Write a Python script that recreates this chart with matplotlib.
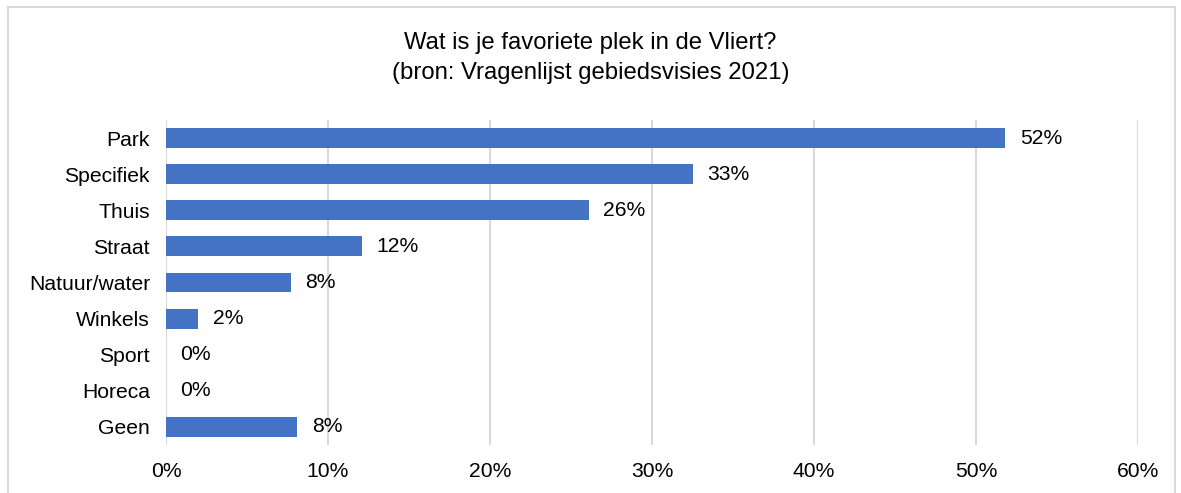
import matplotlib.pyplot as plt
import matplotlib.patches as patches
import numpy as np

plt.rcParams['font.family'] = ['Liberation Sans', 'DejaVu Sans']

categorieen = ['Park', 'Specifiek', 'Thuis', 'Straat', 'Natuur/water',
               'Winkels', 'Sport', 'Horeca', 'Geen']
percentages = [51.8, 32.5, 26.1, 12.1, 7.7, 2.0, 0.0, 0.0, 8.1]
labels = ['52%', '33%', '26%', '12%', '8%', '2%', '0%', '0%', '8%']
x_ticks = [0, 10, 20, 30, 40, 50, 60]

fig = plt.figure(figsize=(11.81, 4.93), dpi=100)
ax = fig.add_axes([166 / 1181, 1 - 445 / 493, (1138 - 166) / 1181, (445 - 120) / 493])

# rand om de grafiek
fig.patches.append(patches.Rectangle((8 / 1181, -0.05), (1175 - 8) / 1181, 1.05 - 7 / 493,
                                     transform=fig.transFigure, fill=False,
                                     edgecolor='#d9d9d9', linewidth=1.5))

y = np.arange(len(categorieen))
ax.barh(y, percentages, height=0.55, color='#4472c4', zorder=3)

for yi, waarde, tekst in zip(y, percentages, labels):
    ax.text(waarde + 0.9, yi, tekst, va='center', ha='left', fontsize=15.2, color='#000000')

ax.set_ylim(len(categorieen) - 0.5, -0.5)
ax.set_xlim(0, 60)
ax.set_yticks(y)
ax.set_yticklabels(categorieen, fontsize=15.2)
ax.set_xticks(x_ticks)
ax.set_xticklabels([f'{t}%' for t in x_ticks], fontsize=15.2)
ax.tick_params(axis='both', length=0)
ax.tick_params(axis='y', pad=11.5)
ax.tick_params(axis='x', pad=12.5)
ax.grid(axis='x', color='#d9d9d9', linewidth=1.5, zorder=0)
for s in ax.spines.values():
    s.set_visible(False)

fig.text(0.5, 1 - 43 / 493, 'Wat is je favoriete plek in de Vliert?', ha='center', va='center', fontsize=17.2)
fig.text(0.5, 1 - 73 / 493, '(bron: Vragenlijst gebiedsvisies 2021)', ha='center', va='center', fontsize=17.2)

fig.savefig('out.png', dpi=100)
